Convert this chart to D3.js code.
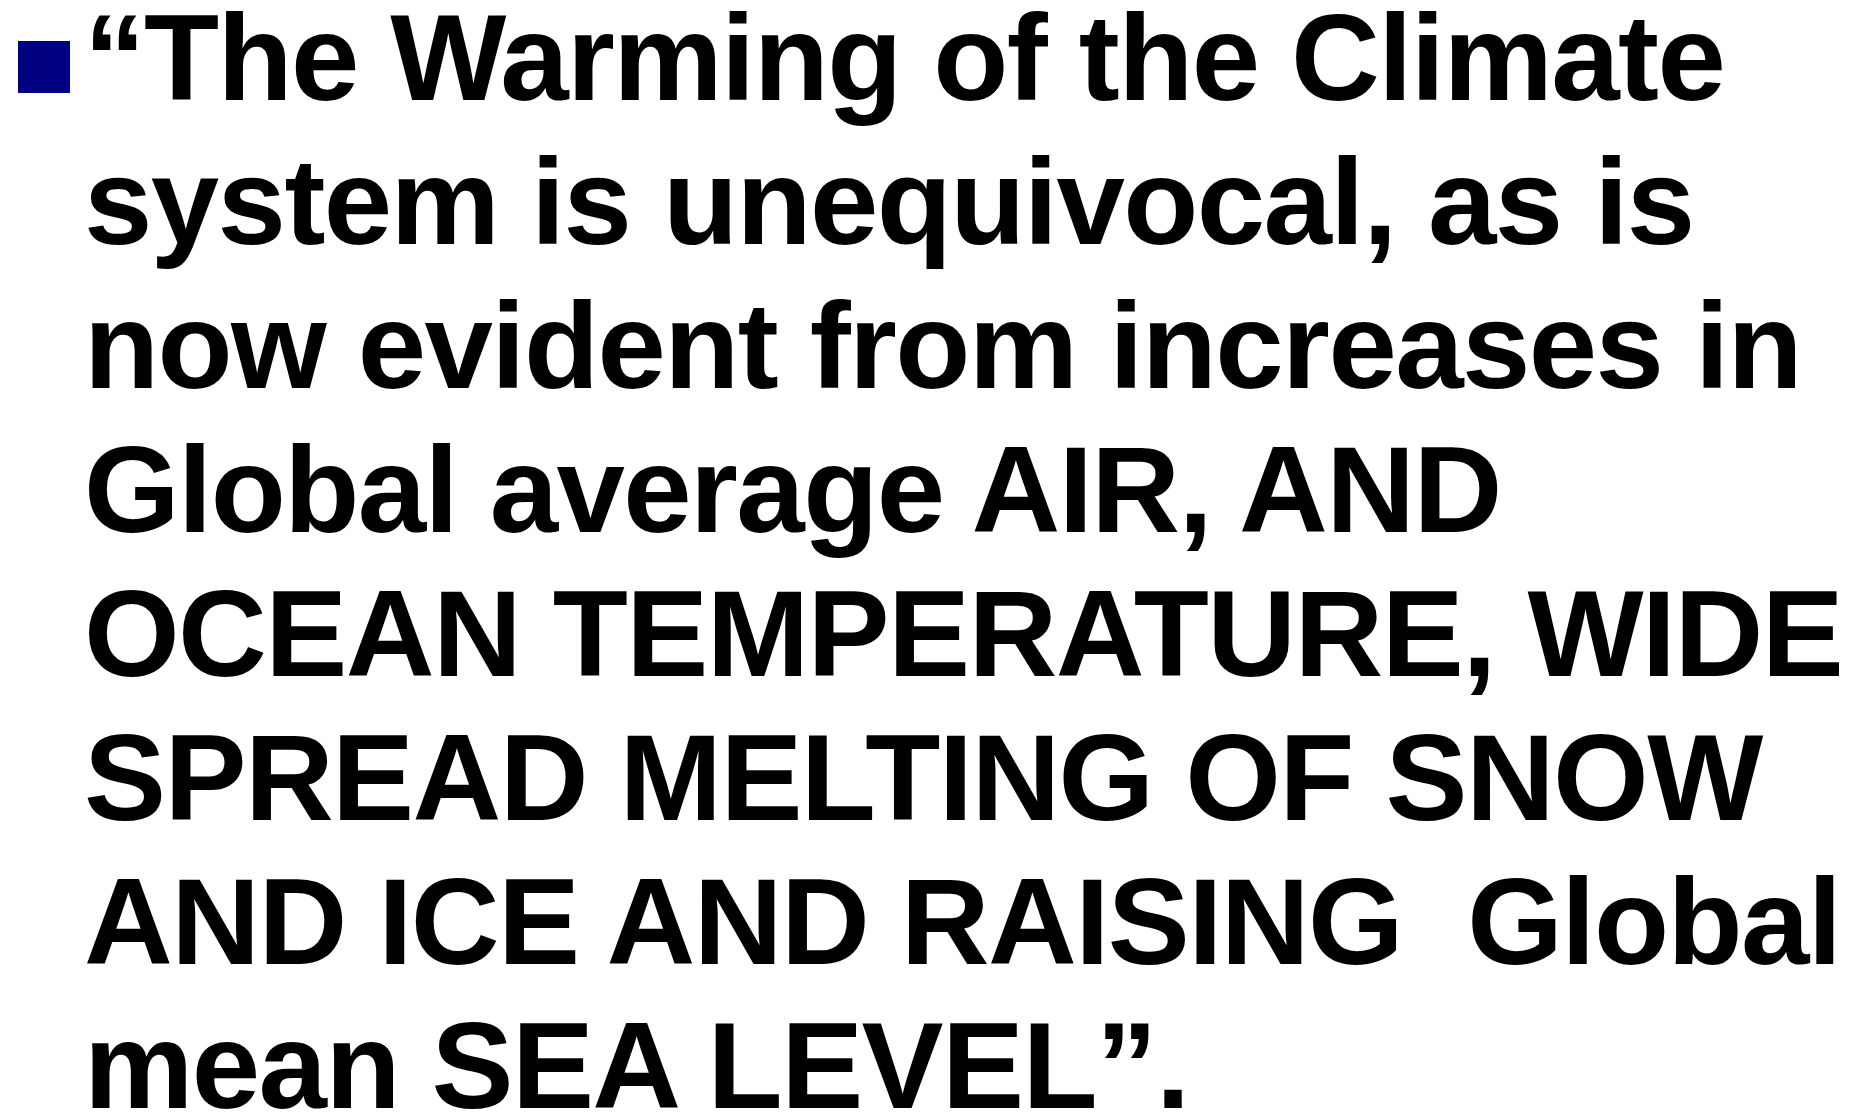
<!DOCTYPE html>
<html>
<head>
<meta charset="utf-8">
<script src="https://cdn.jsdelivr.net/npm/d3@7"></script>
<style>
  html, body { margin: 0; padding: 0; background: #fff; }
  svg text { white-space: pre; }
</style>
</head>
<body>
<svg id="chart" width="1860" height="1112"></svg>
<script>
const lines = [
  "\u201CThe Warming of the Climate",
  "system is unequivocal, as is",
  "now evident from increases in",
  "Global average AIR, AND",
  "OCEAN TEMPERATURE, WIDE",
  "SPREAD MELTING OF SNOW",
  "AND ICE AND RAISING  Global",
  "mean SEA LEVEL\u201D."
];
const lineIndex = d3.range(lines.length);

const svg = d3.select("#chart");
const y = d3.scaleLinear().domain([0, lines.length - 1]).range([100, 1108]);

svg.append("rect")
  .attr("x", 18).attr("y", 41).attr("width", 52).attr("height", 52)
  .attr("fill", "#000080");

svg.selectAll("text.line")
  .data(lineIndex)
  .join("text")
  .attr("class", "line")
  .attr("x", 84)
  .attr("y", i => y(i))
  .attr("font-family", "'Liberation Sans', Arial, Helvetica, sans-serif")
  .attr("font-weight", "bold")
  .attr("font-size", 123)
  .attr("letter-spacing", -1.6)
  .attr("fill", "#000")
  .text(i => lines[i]);
</script>
</body>
</html>
